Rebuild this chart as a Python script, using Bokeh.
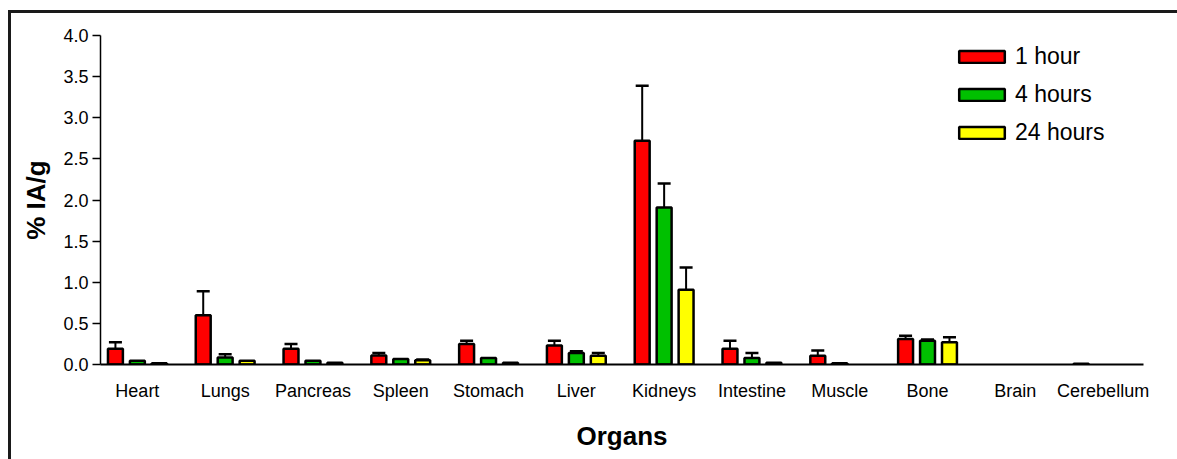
from bokeh.plotting import figure
from bokeh.models import (ColumnDataSource, FixedTicker, PrintfTickFormatter, Whisker,
                          TeeHead, Legend, LegendItem, InlineStyleSheet)
from bokeh.embed import file_html
from bokeh.resources import INLINE

# Biodistribution, % injected activity per gram, mean and upper error
organs = ["Heart", "Lungs", "Pancreas", "Spleen", "Stomach", "Liver",
          "Kidneys", "Intestine", "Muscle", "Bone", "Brain", "Cerebellum"]

series_names = ["1 hour", "4 hours", "24 hours"]
series_colors = ["#FF0000", "#00C000", "#FFFF00"]

mean_1h = [0.19, 0.60, 0.19, 0.11, 0.25, 0.23, 2.72, 0.19, 0.105, 0.31, 0.0, 0.01]
err_1h = [0.08, 0.29, 0.06, 0.03, 0.04, 0.06, 0.67, 0.10, 0.065, 0.04, 0.0, 0.0]

mean_4h = [0.045, 0.085, 0.045, 0.068, 0.08, 0.14, 1.91, 0.08, 0.015, 0.29, 0.0, 0.0]
err_4h = [0.0, 0.04, 0.0, 0.0, 0.0, 0.02, 0.29, 0.06, 0.0, 0.015, 0.0, 0.0]

mean_24h = [0.015, 0.045, 0.02, 0.052, 0.02, 0.105, 0.91, 0.02, 0.0, 0.27, 0.0, 0.0]
err_24h = [0.0, 0.0, 0.0, 0.01, 0.0, 0.035, 0.27, 0.0, 0.0, 0.06, 0.0, 0.0]

y_ticks = [0.0, 0.5, 1.0, 1.5, 2.0, 2.5, 3.0, 3.5, 4.0]

FONT = "Liberation Sans"

# thin dark frame along the left and top edges of the page
frame_css = InlineStyleSheet(css="""
:host::after {
  content: "";
  position: absolute;
  left: 8px; top: 10px; right: 0; bottom: 0;
  border-left: 3px solid #1a1a1a;
  border-top: 3px solid #1a1a1a;
  pointer-events: none;
}
""")

p = figure(width=1177, height=459, output_backend="svg", toolbar_location=None,
           x_range=(0.08, 11.96), y_range=(0, 4.0),
           min_border_left=100, min_border_right=34, min_border_top=35,
           min_border_bottom=95, stylesheets=[frame_css])
p.outline_line_color = None
p.xgrid.grid_line_color = None
p.ygrid.grid_line_color = None
p.background_fill_color = "white"
p.border_fill_color = "white"

# y axis
p.yaxis.ticker = FixedTicker(ticks=y_ticks)
p.yaxis.formatter = PrintfTickFormatter(format="%.1f")
p.yaxis.minor_tick_line_color = None
p.yaxis.major_tick_out = 8
p.yaxis.major_tick_in = 0
p.yaxis.major_tick_line_width = 1.5
p.yaxis.axis_line_width = 1.5
p.yaxis.major_label_standoff = 4
p.yaxis.major_label_text_font = FONT
p.yaxis.major_label_text_font_size = "18px"
p.yaxis.major_label_text_color = "black"
p.yaxis.axis_label = "% IA/g"
p.yaxis.axis_label_text_font = FONT
p.yaxis.axis_label_text_font_size = "26px"
p.yaxis.axis_label_text_font_style = "bold"
p.yaxis.axis_label_text_color = "black"
p.yaxis.axis_label_standoff = 9

# x axis with organ names at category centres
centers = [i + 0.5 for i in range(len(organs))]
p.xaxis.ticker = FixedTicker(ticks=centers)
p.xaxis.major_label_overrides = {c: name for c, name in zip(centers, organs)}
p.xaxis.major_tick_line_color = None
p.xaxis.minor_tick_line_color = None
p.xaxis.axis_line_width = 2
p.xaxis.major_label_standoff = 10
p.xaxis.major_label_text_font = FONT
p.xaxis.major_label_text_font_size = "18px"
p.xaxis.major_label_text_color = "black"
p.xaxis.axis_label = "Organs"
p.xaxis.axis_label_text_font = FONT
p.xaxis.axis_label_text_font_size = "26px"
p.xaxis.axis_label_text_font_style = "bold"
p.xaxis.axis_label_text_color = "black"
p.xaxis.axis_label_standoff = 17

offsets = [-0.25, 0.0, 0.25]
bar_w = 0.17
legend_items = []
for name, color, means, errs, off in zip(series_names, series_colors,
                                         [mean_1h, mean_4h, mean_24h],
                                         [err_1h, err_4h, err_24h], offsets):
    xs = [c + off for c, m in zip(centers, means) if m > 0]
    tops = [m for m in means if m > 0]
    src = ColumnDataSource(dict(x=xs, top=tops))
    r = p.vbar(x="x", top="top", width=bar_w, bottom=0, source=src,
               fill_color=color, line_color="black", line_width=2.5)
    legend_items.append(LegendItem(label=name, renderers=[r]))

    ex = [c + off for c, m, e in zip(centers, means, errs) if e > 0]
    elo = [m for m, e in zip(means, errs) if e > 0]
    ehi = [m + e for m, e in zip(means, errs) if e > 0]
    esrc = ColumnDataSource(dict(x=ex, lower=elo, upper=ehi))
    w = Whisker(source=esrc, base="x", lower="lower", upper="upper",
                line_color="black", line_width=2,
                upper_head=TeeHead(size=13, line_color="black", line_width=2.5),
                lower_head=None, level="underlay")
    p.add_layout(w)

legend = Legend(items=legend_items, location=(853, 218),
                glyph_width=57, glyph_height=15, label_standoff=5,
                label_text_font=FONT, label_text_font_size="23px",
                label_text_color="black", spacing=11, padding=0, margin=0,
                border_line_color=None, background_fill_alpha=0)
p.add_layout(legend, "center")

open("out.html", "w").write(file_html(p, INLINE))
